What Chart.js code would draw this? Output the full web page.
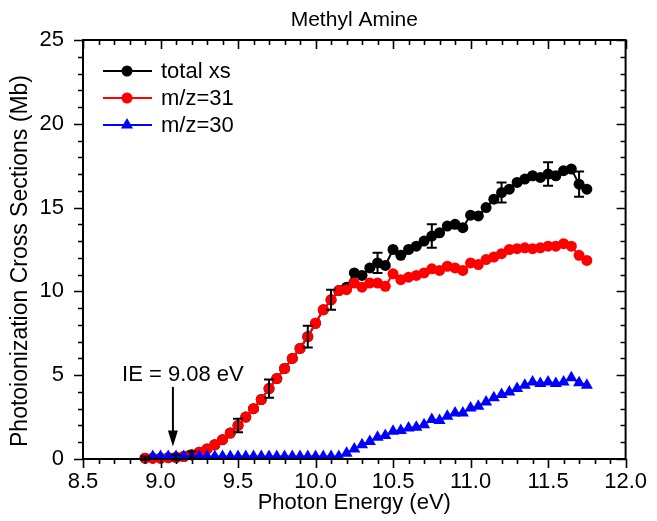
<!DOCTYPE html>
<html>
<head>
<meta charset="utf-8">
<script src="https://cdn.jsdelivr.net/npm/chart.js@4.4.0/dist/chart.umd.min.js"></script>
<style>
html, body { margin: 0; padding: 0; background: #fff; }
</style>
</head>
<body>
<canvas id="chart" width="657" height="521"></canvas>
<script>
// photon energies (eV)
const energies = [8.90, 8.95, 9.00, 9.05, 9.10, 9.15, 9.20, 9.25, 9.30, 9.35,
  9.40, 9.45, 9.50, 9.55, 9.60, 9.65, 9.70, 9.75, 9.80, 9.85,
  9.90, 9.95, 10.00, 10.05, 10.10, 10.15, 10.20, 10.25, 10.30, 10.35,
  10.40, 10.45, 10.50, 10.55, 10.60, 10.65, 10.70, 10.75, 10.80, 10.85,
  10.90, 10.95, 11.00, 11.05, 11.10, 11.15, 11.20, 11.25, 11.30, 11.35,
  11.40, 11.45, 11.50, 11.55, 11.60, 11.65, 11.70, 11.75];

// cross sections (Mb)
const totalXs = [0.05, 0.05, 0.05, 0.08, 0.1, 0.15, 0.25, 0.4, 0.6, 0.85,
  1.15, 1.55, 2.0, 2.5, 3.0, 3.55, 4.2, 4.8, 5.4, 6.0,
  6.6, 7.3, 8.1, 8.9, 9.5, 10.05, 10.25, 11.1, 10.95, 11.4,
  11.7, 11.55, 12.5, 12.15, 12.5, 12.7, 13.0, 13.3, 13.5, 13.9,
  14.0, 13.8, 14.55, 14.5, 15.0, 15.5, 15.9, 16.1, 16.5, 16.7,
  16.9, 16.8, 17.0, 16.9, 17.2, 17.3, 16.4, 16.1];

const mz31 = [0.05, 0.05, 0.05, 0.08, 0.1, 0.15, 0.25, 0.4, 0.6, 0.85,
  1.15, 1.55, 2.0, 2.5, 3.0, 3.55, 4.2, 4.8, 5.4, 6.0,
  6.6, 7.3, 8.1, 8.9, 9.5, 10.05, 10.1, 10.5, 10.25, 10.5,
  10.5, 10.3, 11.05, 10.7, 10.85, 10.95, 11.1, 11.35, 11.25, 11.5,
  11.4, 11.25, 11.7, 11.6, 11.9, 12.05, 12.25, 12.5, 12.55, 12.6,
  12.55, 12.6, 12.7, 12.7, 12.85, 12.7, 12.15, 11.85];

const mz30 = [null, 0.15, 0.15, 0.15, 0.15, 0.15, 0.15, 0.15, 0.15, 0.15,
  0.15, 0.15, 0.15, 0.15, 0.15, 0.15, 0.15, 0.15, 0.15, 0.15,
  0.15, 0.15, 0.15, 0.15, 0.15, 0.15, 0.35, 0.6, 0.85, 1.05,
  1.3, 1.4, 1.65, 1.7, 1.85, 1.9, 2.05, 2.35, 2.3, 2.55,
  2.75, 2.75, 3.05, 3.15, 3.4, 3.65, 3.85, 4.0, 4.2, 4.4,
  4.6, 4.5, 4.6, 4.5, 4.6, 4.85, 4.55, 4.4];

// error bars on total xs
const errEnergies = [8.9, 9.1, 9.2, 9.5, 9.7, 9.95, 10.1, 10.4, 10.75, 11.2, 11.5, 11.7];
const errHalf = [0.1, 0.15, 0.2, 0.4, 0.55, 0.65, 0.6, 0.6, 0.7, 0.6, 0.7, 0.75];

const xTicks = [8.5, 9.0, 9.5, 10.0, 10.5, 11.0, 11.5, 12.0];
const yTicks = [0, 5, 10, 15, 20, 25];
const seriesNames = ['total xs', 'm/z=31', 'm/z=30'];
const seriesColors = ['#000000', '#ff0000', '#0000ff'];
const seriesShapes = ['circle', 'circle', 'triangle'];

const chartTitle = 'Methyl Amine';
const yTitle = 'Photoionization Cross Sections (Mb)';
const ieEnergy = 9.08;
const ieLabel = 'IE = 9.08 eV';

const FONT = '"Liberation Sans", Arial, sans-serif';

function pairs(ys) {
  return energies.map((e, i) => ({ x: e, y: ys[i] }));
}

function markerSize(shape) {
  return shape === 'triangle' ? 7 : 5.5;
}

function drawMarker(ctx, shape, x, y, r, color) {
  ctx.fillStyle = color;
  ctx.beginPath();
  if (shape === 'triangle') {
    // same geometry as chart.js triangle
    ctx.moveTo(x, y - r);
    ctx.lineTo(x + Math.sin(Math.PI * 2 / 3) * r, y + r / 2);
    ctx.lineTo(x - Math.sin(Math.PI * 2 / 3) * r, y + r / 2);
    ctx.closePath();
  } else {
    ctx.arc(x, y, r, 0, Math.PI * 2);
  }
  ctx.fill();
}

const decorPlugin = {
  id: 'decor',
  afterDatasetsDraw(chart) {
    const ctx = chart.ctx;
    const xs = chart.scales.x, ys = chart.scales.y;
    const a = chart.chartArea;
    ctx.save();

    // error bars
    ctx.strokeStyle = '#000';
    ctx.lineWidth = 2;
    errEnergies.forEach((e, k) => {
      const i = energies.findIndex(v => Math.abs(v - e) < 1e-6);
      const yc = totalXs[i];
      const px = xs.getPixelForValue(e);
      const top = ys.getPixelForValue(yc + errHalf[k]);
      const bot = ys.getPixelForValue(yc - errHalf[k]);
      ctx.beginPath();
      ctx.moveTo(px, top); ctx.lineTo(px, bot);
      ctx.moveTo(px - 5, top); ctx.lineTo(px + 5, top);
      ctx.moveTo(px - 5, bot); ctx.lineTo(px + 5, bot);
      ctx.stroke();
    });

    // frame
    ctx.lineWidth = 2;
    ctx.strokeRect(a.left, a.top, a.right - a.left, a.bottom - a.top);

    // ticks: bottom/left outward, top/right inward
    ctx.lineWidth = 1.6;
    ctx.beginPath();
    for (let k = 0; k <= 35; k++) {
      const v = 8.5 + k * 0.1;
      const px = Math.round(xs.getPixelForValue(v)) + 0.5;
      const len = k % 5 === 0 ? 9 : 5;
      ctx.moveTo(px, a.bottom); ctx.lineTo(px, a.bottom + len);
      ctx.moveTo(px, a.top); ctx.lineTo(px, a.top + len);
    }
    for (let k = 0; k <= 25; k++) {
      const py = Math.round(ys.getPixelForValue(k)) + 0.5;
      const len = k % 5 === 0 ? 9 : 5;
      ctx.moveTo(a.left, py); ctx.lineTo(a.left - len, py);
      ctx.moveTo(a.right, py); ctx.lineTo(a.right - len, py);
    }
    ctx.stroke();

    // legend inside plot
    ctx.font = '22px ' + FONT;
    ctx.textBaseline = 'middle';
    ctx.textAlign = 'left';
    seriesNames.forEach((name, i) => {
      const y = 71 + i * 27;
      ctx.strokeStyle = seriesColors[i];
      ctx.lineWidth = 2;
      ctx.beginPath();
      ctx.moveTo(103, y); ctx.lineTo(152, y);
      ctx.stroke();
      drawMarker(ctx, seriesShapes[i], 127, y, markerSize(seriesShapes[i]), seriesColors[i]);
      ctx.fillStyle = '#000';
      ctx.fillText(name, 161, y + 1);
    });

    // IE arrow
    const ax = xs.getPixelForValue(ieEnergy);
    const aTop = ys.getPixelForValue(4.3);
    const aTip = ys.getPixelForValue(0.75);
    ctx.strokeStyle = '#000';
    ctx.fillStyle = '#000';
    ctx.lineWidth = 2;
    ctx.beginPath();
    ctx.moveTo(ax, aTop); ctx.lineTo(ax, aTip - 10);
    ctx.stroke();
    ctx.beginPath();
    ctx.moveTo(ax - 5, aTip - 16);
    ctx.lineTo(ax + 5, aTip - 16);
    ctx.lineTo(ax, aTip);
    ctx.closePath();
    ctx.fill();
    ctx.textAlign = 'center';
    ctx.fillText(ieLabel, ax + 10, ys.getPixelForValue(5.0));

    // title centred over the plot area
    ctx.font = '21px ' + FONT;
    ctx.fillText(chartTitle, (a.left + a.right) / 2, 20);

    // y axis title
    ctx.font = '23px ' + FONT;
    ctx.translate(21, 261);
    ctx.rotate(-Math.PI / 2);
    ctx.fillText(yTitle, 0, 0);

    ctx.restore();
  }
};

function makeSet(i, ys, order) {
  return {
    label: seriesNames[i],
    data: pairs(ys),
    borderColor: seriesColors[i],
    backgroundColor: seriesColors[i],
    borderWidth: 2,
    pointStyle: seriesShapes[i],
    pointRadius: markerSize(seriesShapes[i]),
    pointBorderWidth: 0,
    pointHoverRadius: 5,
    tension: 0,
    spanGaps: false,
    clip: false,
    order: order
  };
}

new Chart(document.getElementById('chart'), {
  type: 'line',
  data: {
    datasets: [
      makeSet(0, totalXs, 3),
      makeSet(1, mz31, 2),
      makeSet(2, mz30, 1)
    ]
  },
  options: {
    responsive: false,
    animation: false,
    layout: { padding: { left: 0, right: 25, top: 40, bottom: 0 } },
    plugins: {
      legend: { display: false },
      tooltip: { enabled: false },
      title: { display: false }
    },
    scales: {
      x: {
        type: 'linear',
        min: 8.5,
        max: 12.0,
        grid: { display: false, drawTicks: false },
        border: { display: false },
        afterBuildTicks: s => { s.ticks = xTicks.map(v => ({ value: v })); },
        afterFit: s => { s.height = 62; },
        ticks: {
          color: '#000',
          padding: 10,
          maxRotation: 0,
          font: { family: FONT, size: 22 },
          callback: v => Number(v).toFixed(1)
        },
        title: {
          display: true,
          text: 'Photon Energy (eV)',
          color: '#000',
          font: { family: FONT, size: 22 },
          padding: { top: 2, bottom: 5 }
        }
      },
      y: {
        min: 0,
        max: 25,
        grid: { display: false, drawTicks: false },
        border: { display: false },
        afterBuildTicks: s => { s.ticks = yTicks.map(v => ({ value: v })); },
        afterFit: s => { s.width = 83; },
        ticks: {
          color: '#000',
          padding: 19,
          font: { family: FONT, size: 22 }
        },
        title: { display: false }
      }
    }
  },
  plugins: [decorPlugin]
});
</script>
</body>
</html>
